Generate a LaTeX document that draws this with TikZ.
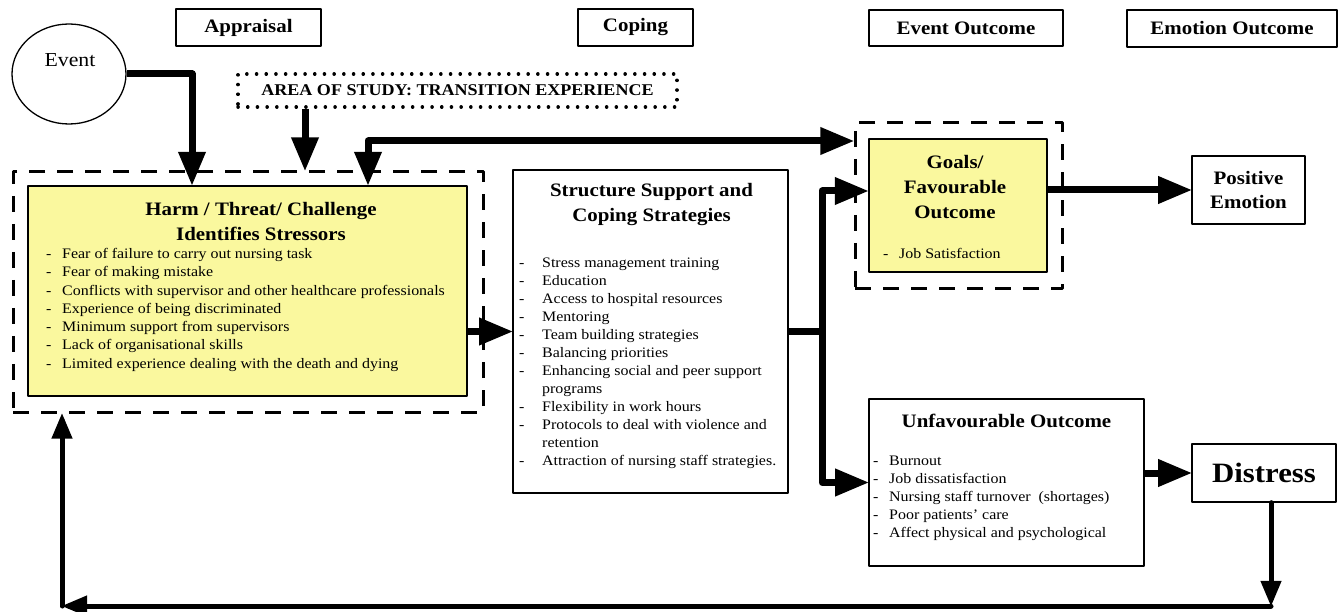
\documentclass[tikz,border=0pt]{standalone}
\usepackage{fontspec}
\setmainfont{Liberation Serif}[FakeStretch=1.1]
\usetikzlibrary{arrows,shapes.geometric}
\definecolor{boxyellow}{RGB}{250,248,158}
\newcommand{\dashitem}[1][16pt]{\makebox[#1][l]{-}}

\begin{document}
\begin{tikzpicture}[line cap=round,line join=round,>=triangle 45,x=1pt,y=-1pt,
	hdr/.style={draw,line width=1.3pt,inner sep=0pt,font=\bfseries\fontsize{19}{24}\selectfont},
	plainbox/.style={draw,line width=1.4pt,inner sep=0pt},
	yelbox/.style={draw,line width=2pt,fill=boxyellow,inner sep=0pt},
	dashbox/.style={draw,line width=3pt,line cap=butt,dash pattern=on 16pt off 12pt,inner sep=0pt},
	dotbox/.style={draw,line width=3.5pt,dash pattern=on 0.1pt off 9.6pt,inner sep=0pt,font=\bfseries\fontsize{16.4}{18}\selectfont},
	titletext/.style={align=center,inner sep=0pt,font=\bfseries\fontsize{19}{25}\selectfont},
	listtext/.style={align=left,inner sep=0pt,anchor=north west,font=\fontsize{14.5}{18.3}\selectfont},
	arr/.style={line width=7pt,line cap=butt},
	fb/.style={line width=5pt}]
		\useasboundingbox (0,0) rectangle (1339,612);
		\node[hdr,minimum width=145pt,minimum height=37pt] (appraisal) at (248.5,27.5) {Appraisal};
		\node[hdr,minimum width=115pt,minimum height=37pt] (coping) at (635.5,27.5) {Coping};
		\node[hdr,minimum width=194pt,minimum height=36pt] (evout) at (966,28) {Event Outcome};
		\node[hdr,minimum width=210pt,minimum height=37pt] (emout) at (1232,28.5) {Emotion Outcome};
		\node[ellipse,draw,line width=1.3pt,minimum width=114pt,minimum height=100pt] (event) at (69,74) {};
		\node[font=\fontsize{19.8}{24}\selectfont,inner sep=0pt] (eventlbl) at (70,60) {Event};
		\node[dotbox,minimum width=439pt,minimum height=33pt] (area) at (457.5,90.5) {AREA OF STUDY: TRANSITION EXPERIENCE};
		\node[dashbox,minimum width=470pt,minimum height=240pt] (harmout) at (248,292) {};
		\node[yelbox,minimum width=439pt,minimum height=210pt] (harm) at (247.5,291) {};
		\node[titletext] (harmtitle) at (261,222) {Harm / Threat/ Challenge\\Identifies Stressors};
		\node[listtext] (harmlist) at (46,248) {\dashitem Fear of failure to carry out nursing task\\
			\dashitem Fear of making mistake\\
			\dashitem Conflicts with supervisor and other healthcare professionals\\
			\dashitem Experience of being discriminated\\
			\dashitem Minimum support from supervisors\\
			\dashitem Lack of organisational skills\\
			\dashitem Limited experience dealing with the death and dying};
		\node[plainbox,minimum width=275pt,minimum height=323pt] (struct) at (650.5,331.5) {};
		\node[titletext] (structtitle) at (651.5,205) {Structure Support and\\Coping Strategies};
		\node[listtext,font=\fontsize{14.5}{18}\selectfont] (structlist) at (519,258) {\dashitem[23pt]Stress management training\\
			\dashitem[23pt]Education\\
			\dashitem[23pt]Access to hospital resources\\
			\dashitem[23pt]Mentoring\\
			\dashitem[23pt]Team building strategies\\
			\dashitem[23pt]Balancing priorities\\
			\dashitem[23pt]Enhancing social and peer support\\
			\hspace*{23pt}programs\\
			\dashitem[23pt]Flexibility in work hours\\
			\dashitem[23pt]Protocols to deal with violence and\\
			\hspace*{23pt}retention\\
			\dashitem[23pt]Attraction of nursing staff strategies.};
		\node[dashbox,minimum width=207pt,minimum height=166pt] (goalsout) at (958.5,206) {};
		\node[yelbox,minimum width=178pt,minimum height=133pt] (goals) at (958,205.5) {};
		\node[titletext] (goalstitle) at (955,187) {Goals/\\Favourable\\Outcome};
		\node[listtext,font=\fontsize{14.5}{18}\selectfont] (goalslist) at (883,248) {\dashitem Job Satisfaction};
		\node[plainbox,titletext,minimum width=113pt,minimum height=68pt,font=\bfseries\fontsize{19}{24}\selectfont] (positive) at (1248.5,190) {Positive\\Emotion};
		\node[plainbox,minimum width=275pt,minimum height=167pt] (unfav) at (1006.5,482.5) {};
		\node[titletext] (unfavtitle) at (1006.5,421) {Unfavourable Outcome};
		\node[listtext,font=\fontsize{14.5}{18}\selectfont] (unfavlist) at (873,456) {\dashitem Burnout\\
			\dashitem Job dissatisfaction\\
			\dashitem Nursing staff turnover~ (shortages)\\
			\dashitem Poor patients' care\\
			\dashitem Affect physical and psychological};
		\node[plainbox,minimum width=144pt,minimum height=58pt,font=\bfseries\fontsize{28}{30}\selectfont] (distress) at (1264,473) {Distress};
		\coordinate (evx) at (192,0);
		\coordinate (areax) at (305,0);
		\coordinate (fbx) at (368,141);
		\coordinate (br) at (822,331.5);
		\coordinate (goaly) at (0,191);
		\coordinate (botR) at (1271,606);
		\coordinate (botL) at (62,606);
		\draw[arr,->] (event.east) -| (harm.north -| evx);
		\draw[arr,->] (area.south -| areax) -- (harmout.north -| areax);
		\draw[arr,<->] (harm.north -| fbx) -- (fbx) -- (goalsout.west |- fbx);
		\draw[arr,->] (harm.east |- struct.west) -- (struct.west);
		\draw[arr] (struct.east) -- (br);
		\draw[arr,->] (br) |- (goals.west |- goaly);
		\draw[arr,->] (br) |- (unfav.west);
		\draw[arr,->] (goals.east |- positive.west) -- (positive.west);
		\draw[arr,->] (unfav.east |- distress.west) -- (distress.west);
		\draw[fb,->] (distress.south -| botR) -- (botR);
		\draw[fb,->] (botR) -- (botL);
		\draw[fb,->] (botL) -- (harmout.south -| botL);
	\end{tikzpicture}
\end{document}
